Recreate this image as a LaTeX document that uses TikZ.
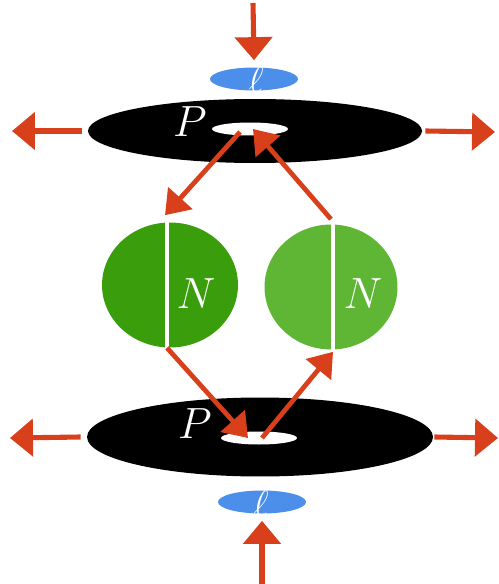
\documentclass[tikz,border=0pt]{standalone}
\usepackage{amsmath}
\usepackage{tikz}
\usetikzlibrary{arrows.meta, shapes.geometric}

\definecolor{arrowred}{HTML}{D8401C}
\definecolor{leptonblue}{HTML}{4C8FEA}
\definecolor{greendark}{HTML}{3A9E0C}
\definecolor{greenlight}{HTML}{5EB634}

\begin{document}
\begin{tikzpicture}[
  x=0.02cm,
  y=-0.02cm,
  line cap=butt,
  line join=miter,
  disk/.style={
    ellipse,
    fill=black,
    inner sep=0pt
  },
  hole/.style={
    ellipse,
    fill=white,
    inner sep=0pt,
    minimum width=1.52cm,
    minimum height=0.26cm
  },
  lepton/.style={
    ellipse,
    fill=leptonblue,
    inner sep=0pt,
    minimum width=1.76cm,
    minimum height=0.46cm
  },
  nucleon/.style={
    ellipse,
    inner sep=0pt,
    minimum height=2.5cm
  },
  label/.style={
    text=white,
    inner sep=0pt
  },
  redarrow/.style={
    -{Triangle[length=4.6mm,width=7.4mm]},
    line width=2.9pt,
    draw=arrowred
  },
  innerarrow/.style={
    -{Triangle[length=4.6mm,width=6.4mm]},
    line width=2.7pt,
    draw=arrowred
  },
  split/.style={
    line width=2pt,
    draw=white
  }
]

\useasboundingbox (0,0) rectangle (498,584);

% =========================================================
% Upper disk
% =========================================================

\node[disk, minimum width=6.68cm, minimum height=1.28cm] (topdisk) at (255,131) {};
\node[hole] (tophole) at (250,129) {};
\node[label, font=\fontsize{24}{24}\selectfont] (topp) at (190,122) {$P$};

\node[lepton] (topl) at (254,79) {};
\node[label, font=\fontsize{20}{20}\selectfont] (topell) at (256,80) {$\ell$};

% =========================================================
% Lower disk
% =========================================================

\node[disk, minimum width=6.92cm, minimum height=1.58cm] (botdisk) at (260,437) {};
\node[hole] (bothole) at (259,438) {};
\node[label, font=\fontsize{24}{24}\selectfont] (botp) at (195,424) {$P$};

\node[lepton] (botl) at (262,502) {};
\node[label, font=\fontsize{20}{20}\selectfont] (botell) at (261,504) {$\ell$};

% =========================================================
% Nucleons
% =========================================================

\node[nucleon, fill=greendark, minimum width=2.72cm] (leftn) at (170,285) {};
\node[nucleon, fill=greenlight, minimum width=2.66cm] (rightn) at (331,287) {};

\draw[split] ([xshift=-0.6mm]leftn.north) -- ([xshift=-0.6mm]leftn.south);
\draw[split] ([xshift=0.4mm]rightn.north) -- ([xshift=0.4mm]rightn.south);

\node[label, font=\fontsize{26}{26}\selectfont] (leftlab) at (196,294) {$N$};
\node[label, font=\fontsize{26}{26}\selectfont] (rightlab) at (363,294) {$N$};

% =========================================================
% Incoming leptons and outgoing products
% =========================================================

\coordinate (topin) at (253,3);
\coordinate (botin) at (262,584);
\coordinate (tlout) at (12,131);
\coordinate (trout) at (495,132);
\coordinate (blout) at (10,438);
\coordinate (brout) at (498,438);

\draw[redarrow] (topin) -- ([yshift=1.4mm]topl.north);
\draw[redarrow] (botin) -- ([yshift=-1.4mm]botl.south);

\draw[redarrow] ([xshift=-1.2mm]topdisk.west) -- (tlout);
\draw[redarrow] ([xshift=0.6mm]topdisk.east) -- (trout);
\draw[redarrow] ([xshift=-1.2mm]botdisk.west) -- (blout);
\draw[redarrow] ([xshift=0.2mm]botdisk.east) -- (brout);

% =========================================================
% Exchange between the disks
% =========================================================

\draw[innerarrow] ([xshift=-2mm,yshift=-0.6mm]tophole.center) -- ([xshift=-1mm,yshift=1.4mm]leftn.north);
\draw[innerarrow] ([yshift=1mm]rightn.north) -- ([xshift=0.6mm]tophole.center);
\draw[innerarrow] ([xshift=-0.6mm]leftn.south) -- ([xshift=-2.2mm]bothole.center);
\draw[innerarrow] ([xshift=0.6mm]bothole.center) -- ([xshift=0.4mm,yshift=-0.4mm]rightn.south);

\end{tikzpicture}
\end{document}
